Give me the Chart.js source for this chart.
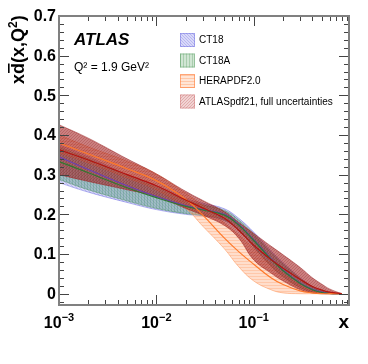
<!DOCTYPE html>
<html>
<head>
<meta charset="utf-8">
<script src="https://cdn.jsdelivr.net/npm/chart.js@4.4.1/dist/chart.umd.min.js"></script>
<style>
  html, body { margin: 0; padding: 0; background: #fff; }
  canvas { display: block; }
</style>
</head>
<body>
<canvas id="pdfChart" width="368" height="364"></canvas>
<script>
// x grid (Bjorken x)
var xValues = [0.001, 0.002, 0.005, 0.01, 0.02, 0.03, 0.05, 0.07, 0.1, 0.15, 0.2, 0.3, 0.4, 0.5, 0.6, 0.8];

// CT18
var ct18Up      = [0.375, 0.345, 0.300, 0.272, 0.240, 0.228, 0.214, 0.190, 0.155, 0.108, 0.078, 0.040, 0.018, 0.007, 0.002, 0];
var ct18Central = [0.345, 0.313, 0.272, 0.245, 0.222, 0.212, 0.200, 0.175, 0.136, 0.089, 0.060, 0.027, 0.011, 0.004, 0.001, 0];
var ct18Down    = [0.280, 0.256, 0.230, 0.212, 0.200, 0.196, 0.185, 0.160, 0.118, 0.070, 0.044, 0.016, 0.005, 0.001, 0, 0];
// CT18A
var ct18aUp      = [0.370, 0.340, 0.297, 0.268, 0.236, 0.224, 0.210, 0.186, 0.150, 0.104, 0.075, 0.038, 0.017, 0.006, 0.002, 0];
var ct18aCentral = [0.333, 0.305, 0.267, 0.242, 0.220, 0.211, 0.198, 0.173, 0.134, 0.087, 0.058, 0.026, 0.010, 0.003, 0.001, 0];
var ct18aDown    = [0.288, 0.262, 0.234, 0.215, 0.202, 0.197, 0.186, 0.160, 0.118, 0.070, 0.043, 0.015, 0.004, 0.001, 0, 0];
// HERAPDF2.0
var heraUp      = [0.400, 0.370, 0.334, 0.302, 0.253, 0.222, 0.178, 0.148, 0.114, 0.075, 0.050, 0.021, 0.008, 0.002, 0, 0];
var heraCentral = [0.380, 0.352, 0.315, 0.285, 0.238, 0.198, 0.140, 0.106, 0.074, 0.040, 0.023, 0.007, 0.002, 0, 0, 0];
var heraDown    = [0.355, 0.330, 0.292, 0.262, 0.215, 0.170, 0.113, 0.068, 0.032, 0.010, 0.002, 0, 0, 0, 0, 0];
// ATLASpdf21
var atlasUp      = [0.426, 0.392, 0.340, 0.302, 0.258, 0.235, 0.207, 0.180, 0.152, 0.120, 0.098, 0.066, 0.040, 0.024, 0.012, 0];
var atlasCentral = [0.363, 0.337, 0.300, 0.272, 0.236, 0.216, 0.190, 0.160, 0.122, 0.086, 0.064, 0.036, 0.018, 0.009, 0.004, 0];
var atlasDown    = [0.300, 0.283, 0.262, 0.245, 0.215, 0.198, 0.172, 0.140, 0.085, 0.052, 0.032, 0.010, 0.002, 0, 0, 0];

var legendLabels = ['CT18', 'CT18A', 'HERAPDF2.0', 'ATLASpdf21, full uncertainties'];
var yTickLabels = ['0', '0.1', '0.2', '0.3', '0.4', '0.5', '0.6', '0.7'];
var xTickPowers = [-3, -2, -1];

function pts(ys) {
  return ys.map(function (y, i) { return { x: xValues[i], y: y }; });
}

// hatch pattern
function hatch(bg, line, kind) {
  var n = 3;
  var c = document.createElement('canvas');
  c.width = n; c.height = n;
  var g = c.getContext('2d');
  g.fillStyle = bg;
  g.fillRect(0, 0, n, n);
  g.strokeStyle = line;
  g.lineWidth = 0.6;
  g.beginPath();
  if (kind === 'h') { g.moveTo(0, 0.5); g.lineTo(n, 0.5); }
  else if (kind === 'v') { g.moveTo(0.5, 0); g.lineTo(0.5, n); }
  else if (kind === 'b') { for (var k = -n; k <= n; k += n) { g.moveTo(k, 0); g.lineTo(k + n, n); } }
  else { for (var k2 = -n; k2 <= n; k2 += n) { g.moveTo(k2, n); g.lineTo(k2 + n, 0); } }
  g.stroke();
  return g.createPattern(c, 'repeat');
}

var ctx = document.getElementById('pdfChart');
var patCT18  = hatch('rgba(120,120,230,0.30)', 'rgba(80,80,210,0.35)', 'b');
var patCT18A = hatch('rgba(70,150,110,0.38)', 'rgba(40,120,70,0.35)', 'v');
var patHERA  = hatch('rgba(255,160,110,0.35)', 'rgba(255,130,60,0.40)', 'h');
var patATLAS = hatch('rgba(165,35,35,0.58)', 'rgba(120,10,10,0.35)', 'f');
var legendPatterns = [
  hatch('rgba(130,130,235,0.30)', 'rgba(90,90,215,0.45)', 'b'),
  hatch('rgba(100,170,110,0.30)', 'rgba(60,140,70,0.45)', 'v'),
  hatch('rgba(255,170,120,0.30)', 'rgba(255,130,60,0.50)', 'h'),
  hatch('rgba(210,110,110,0.30)', 'rgba(180,60,60,0.45)', 'f')
];
var legendEdges = ['rgba(110,110,225,0.5)', 'rgba(90,160,100,0.5)', 'rgba(255,140,80,0.7)', 'rgba(210,120,120,0.5)'];

function band(up, down, pattern, edge, order) {
  return [
    { data: pts(up), fill: '+1', backgroundColor: pattern, borderColor: edge, borderWidth: 0.8, pointRadius: 0, tension: 0.4, order: order },
    { data: pts(down), fill: false, borderColor: edge, borderWidth: 0.8, pointRadius: 0, tension: 0.4, order: order }
  ];
}
function central(vals, color, order) {
  return { data: pts(vals), fill: false, borderColor: color, borderWidth: 1.2, pointRadius: 0, tension: 0.4, order: order };
}

var datasets = [].concat(
  band(ct18Up, ct18Down, patCT18, 'rgba(100,100,225,0.6)', 20),
  band(ct18aUp, ct18aDown, patCT18A, 'rgba(50,130,60,0.5)', 19),
  band(heraUp, heraDown, patHERA, 'rgba(255,130,60,0.6)', 18),
  band(atlasUp, atlasDown, patATLAS, 'rgba(150,30,30,0.6)', 17),
  [central(ct18Central, '#6a3fb5', 5),
   central(ct18aCentral, '#2f7a2f', 4),
   central(heraCentral, '#ff7a2a', 3),
   central(atlasCentral, '#b3140f', 2)]
);

// ROOT-like frame, ticks and text
var atlasFrame = {
  id: 'atlasFrame',
  afterDraw: function (chart) {
    var c = chart.ctx, a = chart.chartArea;
    var sx = chart.scales.x, sy = chart.scales.y;
    c.save();
    // ticks
    c.strokeStyle = '#444';
    c.lineWidth = 1;
    for (var i = -1; i <= 35; i++) {
      var v = i * 0.02;
      var py = Math.round(sy.getPixelForValue(v)) + 0.5;
      if (py < a.top || py > a.bottom) continue;
      var len = (i % 5 === 0) ? 10 : 5;
      c.beginPath();
      c.moveTo(a.left, py); c.lineTo(a.left + len, py);
      c.moveTo(a.right, py); c.lineTo(a.right - len, py);
      c.stroke();
    }
    for (var d = -3; d <= -1; d++) {
      for (var k = 1; k <= 9; k++) {
        var xv = k * Math.pow(10, d);
        if (xv > sx.max) continue;
        var px = Math.round(sx.getPixelForValue(xv)) + 0.5;
        var l2 = (k === 1) ? 10 : 5;
        c.beginPath();
        c.moveTo(px, a.bottom); c.lineTo(px, a.bottom - l2);
        c.moveTo(px, a.top); c.lineTo(px, a.top + l2);
        c.stroke();
      }
    }
    // frame
    c.strokeStyle = '#808080';
    c.lineWidth = 2;
    c.strokeRect(a.left, a.top, a.right - a.left, a.bottom - a.top);

    // y tick labels
    c.fillStyle = '#000';
    c.font = 'bold 16px "Liberation Sans", Arial, sans-serif';
    c.textAlign = 'right';
    c.textBaseline = 'middle';
    yTickLabels.forEach(function (t) {
      c.fillText(t, a.left - 3, sy.getPixelForValue(parseFloat(t)) + 1);
    });
    // x tick labels
    c.textBaseline = 'alphabetic';
    c.textAlign = 'left';
    xTickPowers.forEach(function (p) {
      var base = '10', sup = '\u2212' + Math.abs(p);
      c.font = 'bold 16px "Liberation Sans", Arial, sans-serif';
      var wb = c.measureText(base).width;
      c.font = 'bold 11px "Liberation Sans", Arial, sans-serif';
      var ws = c.measureText(sup).width;
      var x0 = sx.getPixelForValue(Math.pow(10, p)) - (wb + ws) / 2;
      c.font = 'bold 16px "Liberation Sans", Arial, sans-serif';
      c.fillText(base, x0, 328);
      c.font = 'bold 11px "Liberation Sans", Arial, sans-serif';
      c.fillText(sup, x0 + wb, 321);
    });
    // x axis title
    c.font = 'bold 19px "Liberation Sans", Arial, sans-serif';
    c.textAlign = 'right';
    c.fillText('x', a.right, 328);

    // y axis title
    c.save();
    c.translate(24, 84);
    c.rotate(-Math.PI / 2);
    c.textAlign = 'left';
    var f = 'bold 18px "Liberation Sans", Arial, sans-serif';
    c.font = f;
    var xpos = 0;
    c.fillText('x', xpos, 0); xpos += c.measureText('x').width;
    var wd = c.measureText('d').width;
    c.fillText('d', xpos, 0);
    c.fillRect(xpos + 1, -16, wd - 1.5, 1.6);
    xpos += wd;
    c.fillText('(x,Q', xpos, 0); xpos += c.measureText('(x,Q').width;
    c.font = 'bold 12px "Liberation Sans", Arial, sans-serif';
    c.fillText('2', xpos, -7); xpos += c.measureText('2').width;
    c.font = f;
    c.fillText(')', xpos, 0);
    c.restore();

    // ATLAS label
    c.textAlign = 'left';
    c.font = 'italic bold 17px "Liberation Sans", Arial, sans-serif';
    c.fillText('ATLAS', 74, 45);
    c.font = '12px "Liberation Sans", Arial, sans-serif';
    c.fillText('Q\u00b2 = 1.9 GeV\u00b2', 74, 71);

    // legend
    c.font = '10px "Liberation Sans", Arial, sans-serif';
    c.textBaseline = 'middle';
    legendLabels.forEach(function (lab, j) {
      var cy = 40 + j * 20.5;
      c.fillStyle = legendPatterns[j];
      c.fillRect(180, cy - 7, 15, 14);
      c.strokeStyle = legendEdges[j];
      c.lineWidth = 1;
      c.strokeRect(180.5, cy - 6.5, 14, 13);
      c.fillStyle = '#000';
      c.fillText(lab, 199, cy + 0.5);
    });
    c.restore();
  }
};

var pdfChart = new Chart(ctx, {
  type: 'line',
  data: { datasets: datasets },
  options: {
    responsive: false,
    animation: false,
    layout: { padding: { left: 59, right: 19, top: 16, bottom: 59 } },
    plugins: { legend: { display: false }, tooltip: { enabled: false } },
    scales: {
      x: { type: 'logarithmic', min: 0.001, max: 0.95, display: false },
      y: { type: 'linear', min: -0.0285, max: 0.7, display: false }
    }
  },
  plugins: [atlasFrame]
});
</script>
</body>
</html>
